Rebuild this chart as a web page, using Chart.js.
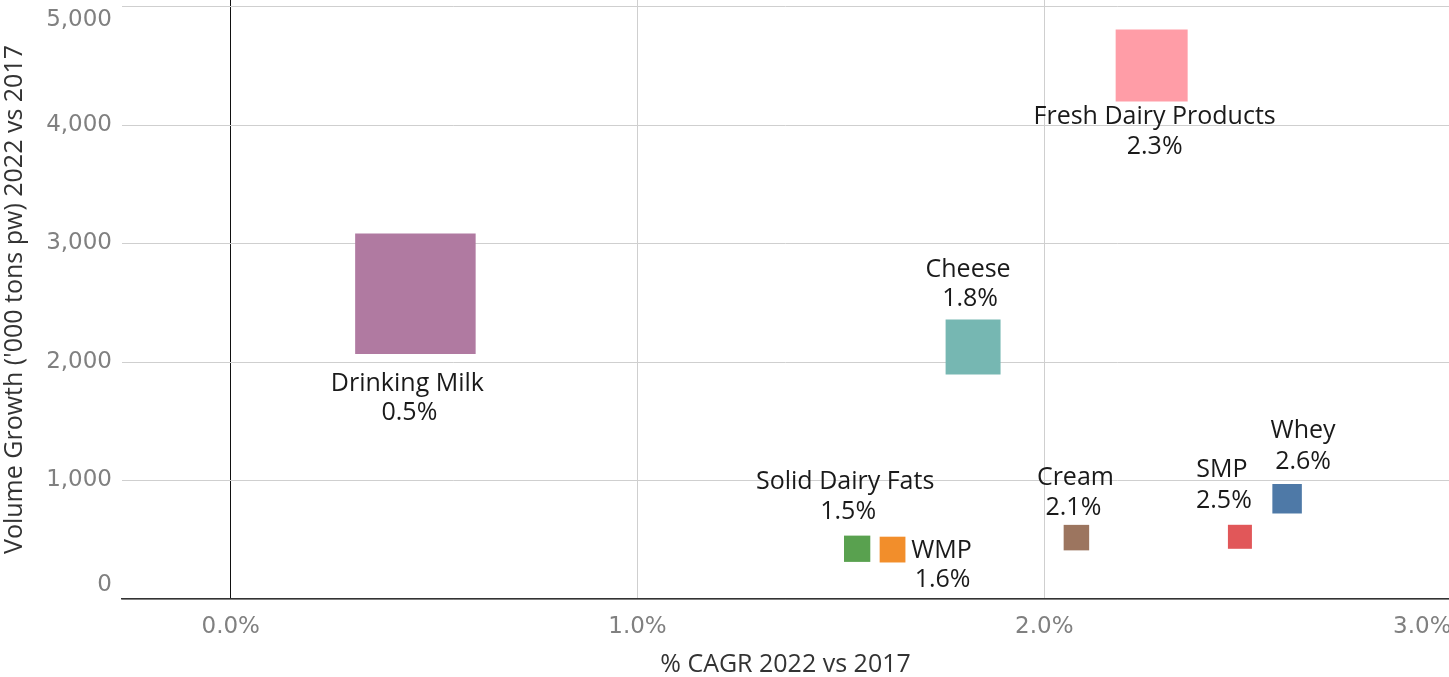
<!DOCTYPE html>
<html><head><meta charset="utf-8">
<script src="https://cdn.jsdelivr.net/npm/chart.js@4.4.0/dist/chart.umd.min.js"></script>
<style>html,body{margin:0;padding:0;background:#fff;overflow:hidden}#wrap{width:1449px;height:677px;position:relative}</style>
</head><body><div id="wrap"><canvas id="c" width="1449" height="677"></canvas></div>
<script>
// ---- data ----
const categories = ['Drinking Milk','Fresh Dairy Products','Cheese','Solid Dairy Fats','WMP','Cream','SMP','Whey'];
const cagrPct = [0.454, 2.264, 1.825, 1.540, 1.627, 2.079, 2.481, 2.597];
const volumeGrowth = [2575, 4502, 2126, 424, 417, 518, 525, 846];
const relativeSize = [100, 35.7, 20.8, 4.76, 4.58, 4.48, 3.97, 5.99];
const xTickValues = [0, 1, 2, 3];
const yTickValues = [0, 1000, 2000, 3000, 4000, 5000];

// ---- styles ----
const colors = ['#b07aa1','#ff9da7','#76b7b2','#59a14f','#f28e2b','#9c755f','#e15759','#4e79a7'];
// label offsets [nameDx, nameDy, pctDx, pctDy] relative to the mark centre
const labelOffsets = [
  [-8, 90, -6, 119],
  [3, 51, 3, 81],
  [-5, -77, -3, -48],
  [-12, -67, -9, -37],
  [49, 1, 50, 30],
  [-1, -60, -3, -30],
  [-18, -67, -16, -36],
  [16, -68, 16, -37]
];
const SIDE_PER_SQRT = 12.05;
const radii = relativeSize.map(v => SIDE_PER_SQRT * Math.sqrt(v) / Math.SQRT2);

const labelPlugin = {
  id: 'pointLabels',
  afterDatasetsDraw(chart) {
    const meta = chart.getDatasetMeta(0);
    const ctx = chart.ctx;
    ctx.save();
    ctx.font = '25px "Open Sans"';
    ctx.fillStyle = '#1a1a1a';
    ctx.textAlign = 'center';
    ctx.textBaseline = 'middle';
    meta.data.forEach((pt, i) => {
      const o = labelOffsets[i];
      ctx.fillText(categories[i], pt.x + o[0], pt.y + o[1]);
      ctx.fillText(cagrPct[i].toFixed(1) + '%', pt.x + o[2], pt.y + o[3]);
    });
    ctx.restore();
  }
};

new Chart(document.getElementById('c'), {
  type: 'scatter',
  data: {
    datasets: [{
      data: categories.map((c, i) => ({x: cagrPct[i], y: volumeGrowth[i]})),
      backgroundColor: colors,
      borderWidth: 0,
      pointStyle: 'rect',
      pointRadius: radii,
      pointHoverRadius: radii,
      clip: false
    }]
  },
  options: {
    responsive: false,
    animation: false,
    devicePixelRatio: 1,
    layout: {padding: 0, autoPadding: false},
    plugins: {legend: {display: false}, tooltip: {enabled: false}},
    scales: {
      x: {
        type: 'linear', min: -0.2673, max: 2.995,
        afterBuildTicks: s => { s.ticks = xTickValues.map(v => ({value: v})); },
        afterFit: s => { s.paddingLeft = 0; s.paddingRight = 0; s.height = 78; },
        grid: {
          color: c => (c.tick && c.tick.value === 0) ? '#111' : '#cfcfcf',
          lineWidth: 1, drawTicks: false
        },
        border: {display: true, color: '#333', width: 1.5},
        ticks: {
          padding: 14, color: '#808080',
          font: {family: 'DejaVu Sans', size: 23},
          callback: v => v === 3 ? '3.0%\u2002\u2002\u2002\u2002\u2002' : v.toFixed(1) + '%'
        },
        title: {display: true, text: '% CAGR 2022 vs 2017', color: '#333',
          font: {family: 'Open Sans', size: 25}, padding: {top: 0, bottom: -3}}
      },
      y: {
        type: 'linear', min: 0, max: 5055,
        afterBuildTicks: s => { s.ticks = yTickValues.map(v => ({value: v})); },
        afterFit: s => { s.width = 122; s.paddingTop = 0; s.paddingBottom = 0; },
        grid: {color: '#cfcfcf', lineWidth: 1, drawTicks: false},
        border: {display: false},
        ticks: {
          padding: 10, color: '#808080',
          font: {family: 'DejaVu Sans', size: 23},
          callback: v => {
            const s = v.toLocaleString('en-US');
            if (v === 5000) return ['', s];
            if (v === 0) return [s, ''];
            return s;
          }
        },
        title: {display: true, text: "Volume Growth ('000 tons pw) 2022 vs 2017", color: '#333',
          font: {family: 'Open Sans', size: 25}, padding: {top: 0, bottom: 0}}
      }
    }
  },
  plugins: [labelPlugin]
});
</script>
</body></html>
